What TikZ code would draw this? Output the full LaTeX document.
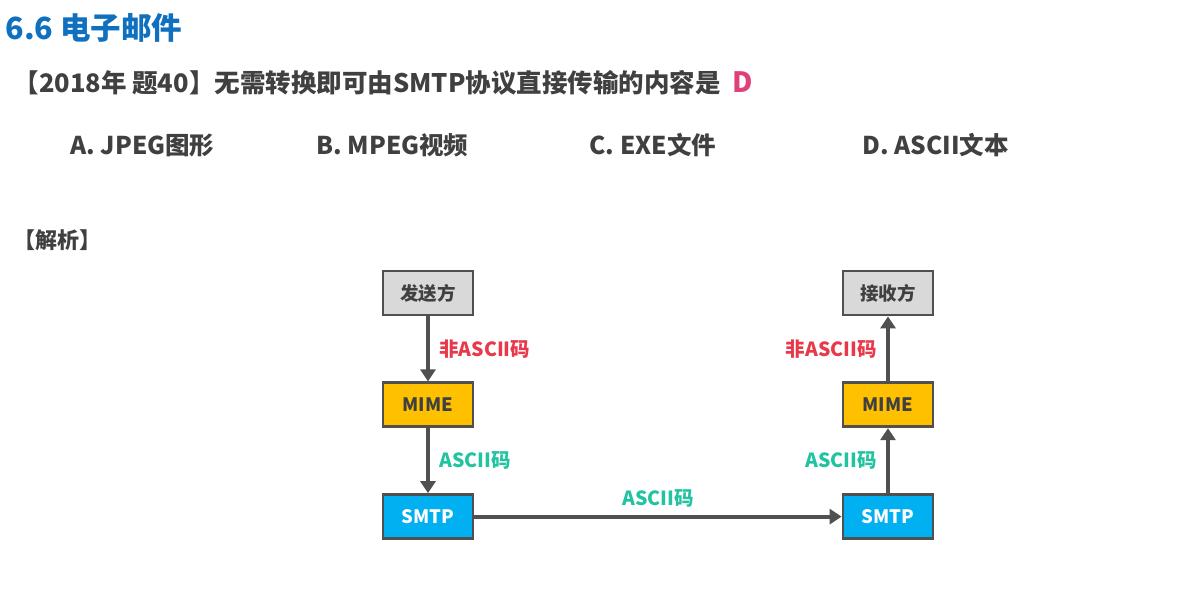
\documentclass[tikz,border=0pt]{standalone}
\usepackage{fontspec}
\setmainfont{Noto Sans CJK SC}
\usetikzlibrary{positioning, arrows.meta}
\definecolor{titleblue}{HTML}{1070C0}
\definecolor{textgray}{HTML}{404040}
\definecolor{linegray}{HTML}{505050}
\definecolor{boxgray}{HTML}{D9D9D9}
\definecolor{boxorange}{HTML}{FFC000}
\definecolor{boxblue}{HTML}{00B0F0}
\definecolor{labred}{HTML}{E8394A}
\definecolor{labgreen}{HTML}{22C3A0}
\definecolor{answerpink}{HTML}{E0407A}
\tikzset{
    box/.style={draw=linegray, line width=2.8pt, minimum width=90pt, minimum height=44pt, inner sep=0pt, font=\fontsize{18.5}{22}\selectfont\bfseries}, % every block of the chain
    flow/.style={draw=linegray, line width=4pt, -{Triangle[length=12pt,width=15pt]}}, % the thick arrows
    redlab/.style={text=labred, font=\fontsize{19.5}{23}\selectfont\bfseries},
    greenlab/.style={text=labgreen, font=\fontsize{19.5}{23}\selectfont\bfseries},
    line/.style={anchor=west, text=textgray, font=\fontsize{24.5}{29}\selectfont\bfseries}, % question and options
    node distance=65pt, % gap between the blocks of one column
}
\begin{document}
\begin{tikzpicture}[x=1pt, y=-1pt]
    \useasboundingbox (0,0) rectangle (1184,612);
    % heading and question
    \node[anchor=west, text=titleblue, font=\fontsize{30.5}{34}\selectfont\bfseries] (title) at (2,28) {6.6 电子邮件};
    \node[line, font=\fontsize{25.5}{30}\selectfont\bfseries] (question) at (10,83) {【2018年 题40】无需转换即可由SMTP协议直接传输的内容是};
    \node[anchor=west, text=answerpink, font=\fontsize{28}{32}\selectfont\bfseries] (answer) at (729,82) {D};
    \node[line] (optA) at (67,145) {A. JPEG图形};
    \node[line] (optB) at (313,145) {B. MPEG视频};
    \node[line] (optC) at (586,145) {C. EXE文件};
    \node[line] (optD) at (859,145) {D. ASCII文本};
    \node[anchor=west, text=textgray, font=\fontsize{22}{26}\selectfont\bfseries] (analysis) at (10,240) {【解析】};
    % sender side
    \node[box, fill=boxgray, text=textgray] (sender) at (428,293) {发送方};
    \node[box, fill=boxorange, text=textgray, below=of sender] (mimeL) {MIME};
    \node[box, fill=boxblue, text=white, below=of mimeL] (smtpL) {SMTP};
    % receiver side
    \node[box, fill=boxgray, text=textgray] (receiver) at (888,293) {接收方};
    \node[box, fill=boxorange, text=textgray, below=of receiver] (mimeR) {MIME};
    \node[box, fill=boxblue, text=white, below=of mimeR] (smtpR) {SMTP};
    \draw[flow] (sender) -- node[redlab, right=6pt] {非ASCII码} (mimeL);
    \draw[flow] (mimeL) -- node[greenlab, right=6pt] {ASCII码} (smtpL);
    \draw[flow] (smtpL) -- node[greenlab, above=4pt] {ASCII码} (smtpR);
    \draw[flow] (smtpR) -- node[greenlab, left=6pt] {ASCII码} (mimeR);
    \draw[flow] (mimeR) -- node[redlab, left=6pt] {非ASCII码} (receiver);
\end{tikzpicture}
\end{document}
